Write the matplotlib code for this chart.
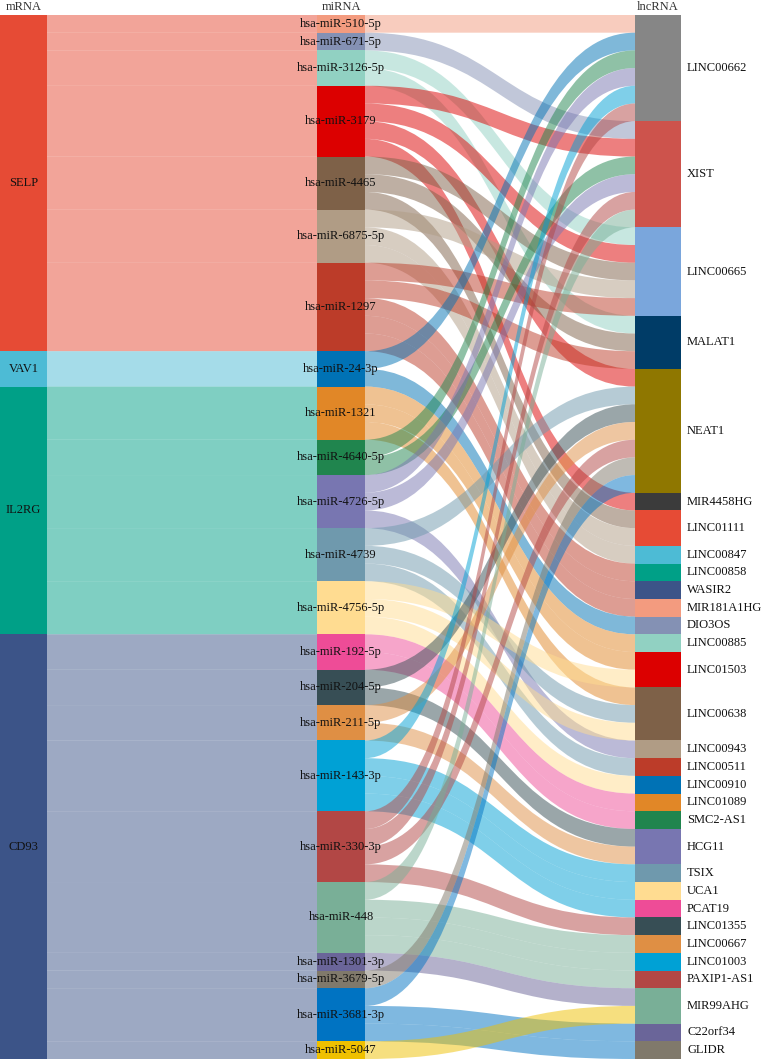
import matplotlib
matplotlib.use("Agg")
import matplotlib.pyplot as plt
from matplotlib.path import Path
from matplotlib.patches import PathPatch, Rectangle

# ---------------- data ----------------
mrna_nodes = ["SELP", "VAV1", "IL2RG", "CD93"]

mirna_nodes = ["hsa-miR-510-5p", "hsa-miR-671-5p", "hsa-miR-3126-5p", "hsa-miR-3179",
               "hsa-miR-4465", "hsa-miR-6875-5p", "hsa-miR-1297", "hsa-miR-24-3p",
               "hsa-miR-1321", "hsa-miR-4640-5p", "hsa-miR-4726-5p", "hsa-miR-4739",
               "hsa-miR-4756-5p", "hsa-miR-192-5p", "hsa-miR-204-5p", "hsa-miR-211-5p",
               "hsa-miR-143-3p", "hsa-miR-330-3p", "hsa-miR-448", "hsa-miR-1301-3p",
               "hsa-miR-3679-5p", "hsa-miR-3681-3p", "hsa-miR-5047"]

mirna_mrna = ["SELP"] * 7 + ["VAV1"] + ["IL2RG"] * 5 + ["CD93"] * 10

lnc_nodes = ["LINC00662", "XIST", "LINC00665", "MALAT1", "NEAT1", "MIR4458HG", "LINC01111",
             "LINC00847", "LINC00858", "WASIR2", "MIR181A1HG", "DIO3OS", "LINC00885",
             "LINC01503", "LINC00638", "LINC00943", "LINC00511", "LINC00910", "LINC01089",
             "SMC2-AS1", "HCG11", "TSIX", "UCA1", "PCAT19", "LINC01355", "LINC00667",
             "LINC01003", "PAXIP1-AS1", "MIR99AHG", "C22orf34", "GLIDR"]

# lncRNA targets of each miRNA (each link = 1 triplet)
mirna_targets = [
    ["LINC00662"],
    ["XIST"],
    ["LINC00665", "MALAT1"],
    ["XIST", "LINC00665", "NEAT1", "MIR4458HG"],
    ["LINC00665", "MALAT1", "LINC01111"],
    ["LINC00665", "LINC01111", "LINC00847"],
    ["LINC00665", "MALAT1", "LINC00858", "WASIR2", "MIR181A1HG"],
    ["LINC00662", "DIO3OS"],
    ["LINC00885", "LINC01503", "LINC00638"],
    ["LINC00662", "XIST"],
    ["LINC00662", "XIST", "LINC00943"],
    ["NEAT1", "LINC00638", "LINC00511"],
    ["LINC01503", "LINC00638", "LINC00910"],
    ["LINC01089", "SMC2-AS1"],
    ["NEAT1", "HCG11"],
    ["NEAT1", "HCG11"],
    ["LINC00662", "TSIX", "UCA1", "PCAT19"],
    ["LINC00662", "XIST", "NEAT1", "LINC01355"],
    ["XIST", "LINC00667", "LINC01003", "PAXIP1-AS1"],
    ["MIR99AHG"],
    ["NEAT1"],
    ["NEAT1", "C22orf34", "GLIDR"],
    ["MIR99AHG"],
]

palette = ["#E64B35", "#4DBBD5", "#00A087", "#3C5488", "#F39B7F", "#8491B4", "#91D1C2",
           "#DC0000", "#7E6148", "#B09C85",
           "#BC3C29", "#0072B5", "#E18727", "#20854E", "#7876B1", "#6F99AD", "#FFDC91",
           "#EE4C97",
           "#374E55", "#DF8F44", "#00A1D5", "#B24745", "#79AF97", "#6A6599", "#80796B",
           "#0073C2", "#EFC000", "#868686", "#CD534C", "#7AA6DC", "#003C67", "#8F7700",
           "#3B3B3B"]

column_titles = ["mRNA", "miRNA", "lncRNA"]

# ---------------- layout ----------------
W, H = 763, 1059
TOP, BOTTOM = 15.0, 1059.0
col_x = [(0.0, 47.0), (317.0, 365.0), (635.0, 681.0)]
FONT = ["Liberation Serif", "DejaVu Serif"]
FS = 9

links = []  # (source, target, value)
for mi, host, tg in zip(mirna_nodes, mirna_mrna, mirna_targets):
    links.append((host, mi, float(len(tg))))
for mi, tg in zip(mirna_nodes, mirna_targets):
    for t in tg:
        links.append((mi, t, 1.0))

columns = [mrna_nodes, mirna_nodes, lnc_nodes]
all_nodes = mrna_nodes + mirna_nodes + lnc_nodes
color = {n: palette[i % len(palette)] for i, n in enumerate(all_nodes)}
col_of = {}
for ci, col in enumerate(columns):
    for n in col:
        col_of[n] = ci

out_v = {n: 0.0 for n in all_nodes}
in_v = {n: 0.0 for n in all_nodes}
for s, t, v in links:
    out_v[s] += v
    in_v[t] += v
val = {n: max(out_v[n], in_v[n]) for n in all_nodes}
total = sum(val[n] for n in mrna_nodes)
scale = (BOTTOM - TOP) / total

ypos = {}
for col in columns:
    y = TOP
    for n in col:
        ypos[n] = (y, y + val[n] * scale)
        y += val[n] * scale

# slot offsets
out_links = {n: [] for n in all_nodes}
in_links = {n: [] for n in all_nodes}
for i, (s, t, v) in enumerate(links):
    out_links[s].append(i)
    in_links[t].append(i)
src_y = {}
tgt_y = {}
for n in all_nodes:
    y = ypos[n][0]
    for i in sorted(out_links[n], key=lambda k: ypos[links[k][1]][0]):
        src_y[i] = (y, y + links[i][2] * scale)
        y += links[i][2] * scale
    y = ypos[n][0]
    for i in sorted(in_links[n], key=lambda k: ypos[links[k][0]][0]):
        tgt_y[i] = (y, y + links[i][2] * scale)
        y += links[i][2] * scale

# ---------------- draw ----------------
fig = plt.figure(figsize=(W / 100, H / 100), dpi=100)
ax = fig.add_axes([0, 0, 1, 1])
ax.set_xlim(0, W)
ax.set_ylim(H, 0)
ax.axis("off")

for i, (s, t, v) in enumerate(links):
    x1 = col_x[col_of[s]][1]
    x0 = col_x[col_of[t]][0]
    xm = (x1 + x0) / 2
    sy0, sy1 = src_y[i]
    ty0, ty1 = tgt_y[i]
    verts = [(x1, sy0), (xm, sy0), (xm, ty0), (x0, ty0),
             (x0, ty1), (xm, ty1), (xm, sy1), (x1, sy1), (x1, sy0)]
    codes = [Path.MOVETO, Path.CURVE4, Path.CURVE4, Path.CURVE4,
             Path.LINETO, Path.CURVE4, Path.CURVE4, Path.CURVE4, Path.CLOSEPOLY]
    ax.add_patch(PathPatch(Path(verts, codes), facecolor=color[s], edgecolor="none",
                           alpha=0.5, zorder=1))

for n in all_nodes:
    c = col_of[n]
    xa, xb = col_x[c]
    ya, yb = ypos[n]
    ax.add_patch(Rectangle((xa, ya), xb - xa, yb - ya, facecolor=color[n],
                           edgecolor="none", zorder=2))
    ym = (ya + yb) / 2
    if c < 2:
        ax.text((xa + xb) / 2, ym, n, ha="center", va="center", fontsize=FS,
                family=FONT, color="#111111", zorder=3)
    else:
        ax.text(xb + 6, ym, n, ha="left", va="center", fontsize=FS,
                family=FONT, color="#111111", zorder=3)

for c, title in enumerate(column_titles):
    xa, xb = col_x[c]
    ax.text((xa + xb) / 2, 7, title, ha="center", va="center", fontsize=FS,
            family=FONT, color="#333333", zorder=3)

fig.savefig("out.png", dpi=100)
